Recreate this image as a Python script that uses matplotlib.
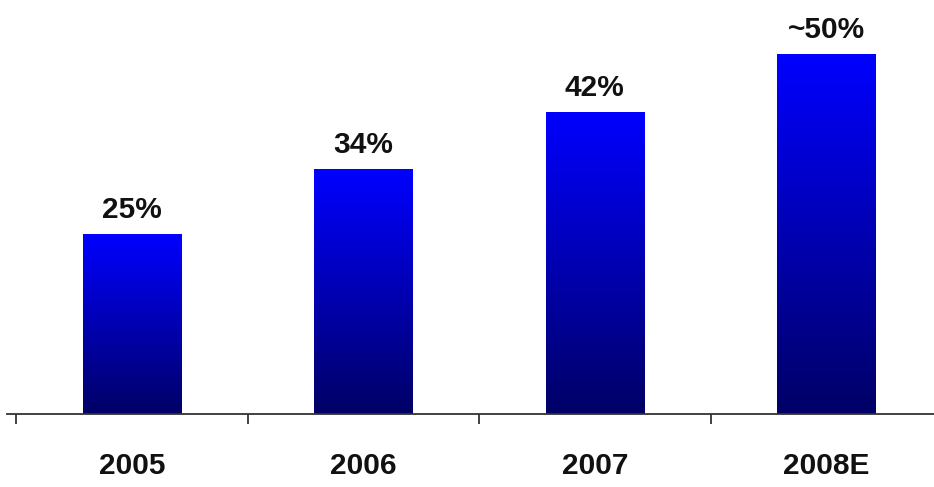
import numpy as np
import matplotlib
matplotlib.use("Agg")
import matplotlib.pyplot as plt
from matplotlib.colors import LinearSegmentedColormap

categories = ["2005", "2006", "2007", "2008E"]
values = [25, 34, 42, 50]
value_labels = ["25%", "34%", "42%", "~50%"]

W, H = 934, 487
fig = plt.figure(figsize=(W / 100, H / 100), dpi=100)
fig.patch.set_facecolor("white")

unit = 231.5
left_px = 16 - 0.04 * unit
ax = fig.add_axes([left_px / W, (H - 414) / H, 4.04 * unit / W, 414 / H])

x = np.arange(len(categories))
bw = 0.425
bars = ax.bar(x, values, width=bw, color="none", edgecolor="none", zorder=2)

cmap = LinearSegmentedColormap.from_list("g", [(0.0, 0.0, 0.40), (0.0, 0.0, 1.0)])
grad = np.linspace(0, 1, 256).reshape(-1, 1)
for b in bars:
    x0, y0 = b.get_x(), b.get_y()
    w, h = b.get_width(), b.get_height()
    im = ax.imshow(grad, cmap=cmap, extent=[x0, x0 + w, y0, y0 + h],
                   origin="lower", aspect="auto", zorder=2, interpolation="bilinear")
    im.set_clip_path(b)

for xi, v, lab in zip(x, values, value_labels):
    ax.annotate(lab, (xi, v), xytext=(0, 7), textcoords="offset points",
                ha="center", va="bottom", fontsize=21.5, fontweight="bold",
                family=["Liberation Sans", "DejaVu Sans"], color="#111111")

ax.set_xlim(-0.54, 3.5)
ax.set_ylim(0, 414 / 7.2)

for s in ["top", "right", "left"]:
    ax.spines[s].set_visible(False)
ax.spines["bottom"].set_color("#333333")
ax.spines["bottom"].set_linewidth(1.3)
ax.set_yticks([])

ax.set_xticks(x)
ax.set_xticklabels(categories, fontsize=21.5, fontweight="bold",
                   family=["Liberation Sans", "DejaVu Sans"], color="#111111")
ax.tick_params(axis="x", which="major", length=0, pad=27)
ax.set_xticks(x - 0.5, minor=True)
ax.tick_params(axis="x", which="minor", length=7, width=1.3, color="#333333")

fig.savefig("out.png", dpi=100, facecolor="white")
